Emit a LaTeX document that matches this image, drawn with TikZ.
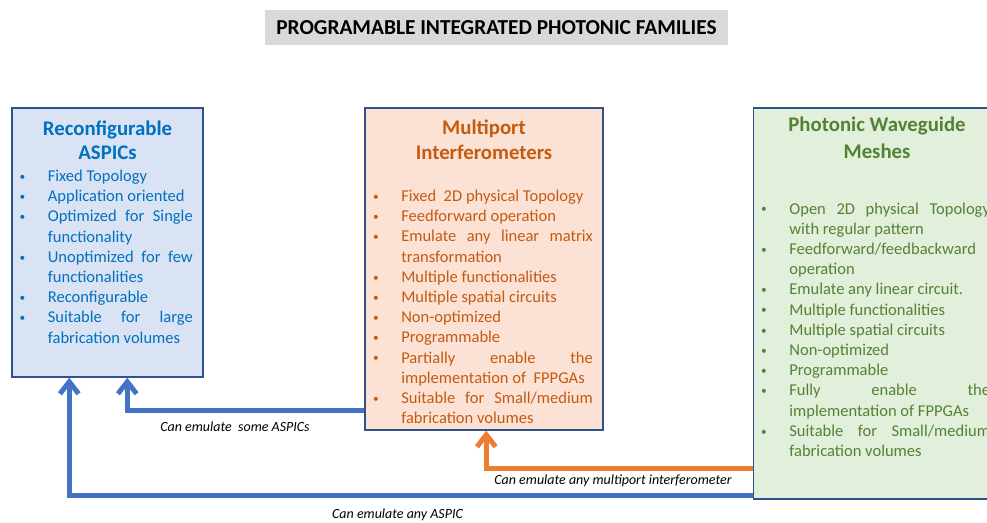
\documentclass[tikz,border=0pt]{standalone}
\usepackage{fontspec}
\setmainfont{Carlito}
\usetikzlibrary{arrows.meta,positioning,calc}
\definecolor{aspicfill}{RGB}{218,227,243}
\definecolor{aspictext}{RGB}{0,112,192}
\definecolor{mpifill}{RGB}{251,226,213}
\definecolor{mpitext}{RGB}{197,90,17}
\definecolor{meshfill}{RGB}{226,239,218}
\definecolor{meshtext}{RGB}{84,130,53}
\definecolor{boxline}{RGB}{47,82,143}
\definecolor{arrowblue}{RGB}{68,114,196}
\definecolor{arroworange}{RGB}{237,125,49}
\definecolor{titlegray}{RGB}{217,217,217}
\hyphenpenalty=10000
\exhyphenpenalty=10000
\tolerance=9999
\hbadness=10000
\newcommand{\featdot}{\raisebox{0.9pt}{\fontsize{8.5}{8.5}\selectfont\textbullet}}
\newenvironment{featlist}{\begin{list}{\featdot}{%
  \setlength{\leftmargin}{18.4pt}\setlength{\labelsep}{16.9pt}%
  \setlength{\labelwidth}{0pt}\setlength{\itemsep}{0pt}%
  \setlength{\parsep}{0pt}\setlength{\topsep}{0pt}\setlength{\partopsep}{0pt}%
  \renewcommand{\makelabel}[1]{\llap{##1}}}}{\end{list}}
\tikzset{famtitle/.style={fill=titlegray,minimum width=347.25pt,minimum height=26.25pt,
  inner sep=0pt,font=\bfseries\fontsize{16}{19}\selectfont},
famfill/.style={draw=boxline,line width=1.1pt,inner sep=0pt},
aspicbox/.style={famfill,fill=aspicfill,minimum width=143.25pt,minimum height=201.75pt},
mpibox/.style={famfill,fill=mpifill,minimum width=178.5pt,minimum height=241.5pt},
meshbox/.style={famfill,fill=meshfill,minimum width=185.25pt,minimum height=293.25pt},
boxtitle/.style={align=center,inner sep=0pt,anchor=north,
  font=\bfseries\fontsize{15.6}{#1}\selectfont},
featnode/.style={inner sep=0pt,anchor=north west,font=\fontsize{12.4}{15.15}\selectfont},
lbl/.style={inner sep=0pt,font=\itshape\fontsize{10.5}{12}\selectfont},
bluearrow/.style={draw=arrowblue,line width=3.75pt,-{Straight Barb[length=9pt,width=14pt]}},
orangearrow/.style={bluearrow,draw=arroworange}}
\begin{document}
\begin{tikzpicture}[x=0.75pt,y=-0.75pt]
  \useasboundingbox (0,0) rectangle (987,523);
  \clip (0,0) rectangle (987,523);
  \node [famtitle] (fam) at (496.5,27.5) {PROGRAMABLE INTEGRATED PHOTONIC FAMILIES};

  % the three families
  \node [aspicbox] (aspic) at (107.5,242.5) {};
  \node [mpibox] (mpi) at (484,269) {};
  \node [meshbox] (mesh) at (877,303.5) {};

  \node [boxtitle=18.2,text=aspictext] (aspictitle) at ($(aspic.north)+(0,13)$) {Reconfigurable\\ASPICs};
  \node [boxtitle=19.3,text=mpitext] (mpititle) at ($(mpi.north)+(0,12)$) {Multiport\\Interferometers};
  \node [boxtitle=20.8,text=meshtext] (meshtitle) at ($(mesh.north)+(0,9)$) {Photonic Waveguide\\Meshes};

  \node [featnode,text=aspictext] (aspiclist) at ($(aspic.north west)+(11.8,62.5)$) {%
    \begin{minipage}{127.1pt}\begin{featlist}
    \item Fixed Topology
    \item Application oriented
    \item Optimized for Single functionality
    \item Unoptimized for few functionalities
    \item Reconfigurable
    \item Suitable for large fabrication volumes
    \end{featlist}\end{minipage}};
  \node [featnode,text=mpitext] (mpilist) at ($(mpi.north west)+(12.2,82.5)$) {%
    \begin{minipage}{162.1pt}\begin{featlist}
    \item Fixed~ 2D physical Topology
    \item Feedforward operation
    \item Emulate any linear matrix transformation
    \item Multiple functionalities
    \item Multiple spatial circuits
    \item Non-optimized
    \item Programmable
    \item Partially enable the implementation of~ FPPGAs
    \item Suitable for Small/medium fabrication volumes
    \end{featlist}\end{minipage}};
  \node [featnode,text=meshtext] (meshlist) at ($(mesh.north west)+(11.8,95)$) {%
    \begin{minipage}{168.9pt}\begin{featlist}
    \item Open 2D physical Topology with regular pattern
    \item Feedforward/feedbackward operation
    \item Emulate any linear circuit.
    \item Multiple functionalities
    \item Multiple spatial circuits
    \item Non-optimized
    \item Programmable
    \item Fully enable the implementation of FPPGAs
    \item Suitable for Small/medium fabrication volumes
    \end{featlist}\end{minipage}};

  % emulation arrows
  \draw [bluearrow] ($(mpi.south west)+(0,-20)$) -| ($(aspic.south west)+(116,0)$);
  \draw [orangearrow] ($(mesh.south west)+(0,-31)$) -| ($(mpi.south west)+(122,0)$);
  \draw [bluearrow] ($(mesh.south west)+(0,-4)$) -| ($(aspic.south west)+(58,0)$);

  \node [lbl] (somelbl) at (235,427) {Can emulate~ some ASPICs};
  \node [lbl] (multilbl) at (613,481) {Can emulate any multiport interferometer};
  \node [lbl] (anylbl) at (397.5,515) {Can emulate any ASPIC};
\end{tikzpicture}
\end{document}
